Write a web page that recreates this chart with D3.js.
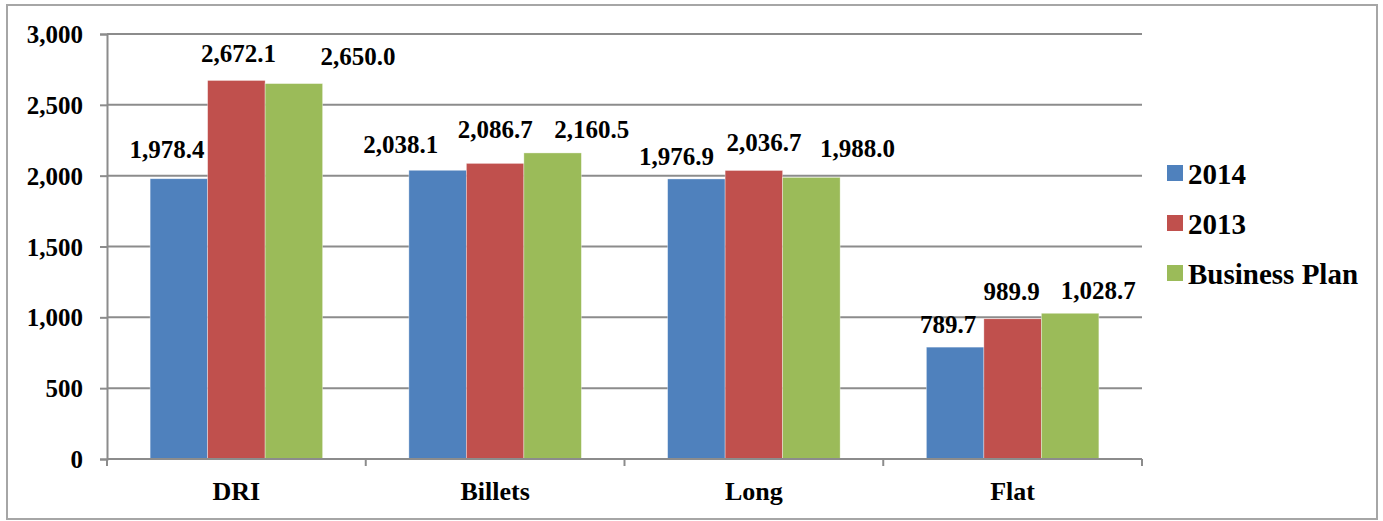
<!DOCTYPE html>
<html>
<head>
<meta charset="utf-8">
<script src="https://cdn.jsdelivr.net/npm/d3@7"></script>
<style>
  body { margin: 0; background: #fff; }
</style>
</head>
<body>
<div id="chart"></div>
<script>
// categories and series
const categories = ["DRI", "Billets", "Long", "Flat"];
const seriesNames = ["2014", "2013", "Business Plan"];
const values2014 = [1978.4, 2038.1, 1976.9, 789.7];
const values2013 = [2672.1, 2086.7, 2036.7, 989.9];
const valuesPlan = [2650.0, 2160.5, 1988.0, 1028.7];
const yTicks = [0, 500, 1000, 1500, 2000, 2500, 3000];

const colors = ["#4F81BD", "#C0504D", "#9BBB59"];
const FONT = "'Liberation Serif', serif";

// data labels were dragged by hand in the original, so nudge them a bit
const labelNudge = [
  [[-12, -21], [-37, -17], [-20, -14], [-7, -14]],
  [[2, -18], [0, -25], [10, -19], [-1, -19]],
  [[64, -19], [39, -15], [46, -20], [28, -14]]
];

const width = 1383, height = 521;
const margin = {top: 34, right: 241, bottom: 62, left: 107};
const innerW = width - margin.left - margin.right;
const innerH = height - margin.top - margin.bottom;

const svg = d3.select("#chart")
  .append("svg")
  .attr("width", width)
  .attr("height", height);

// outer chart border
svg.append("rect")
  .attr("x", 7).attr("y", 5)
  .attr("width", 1370).attr("height", 514)
  .attr("fill", "none")
  .attr("stroke", "#a6a6a6")
  .attr("stroke-width", 2);

const g = svg.append("g")
  .attr("transform", `translate(${margin.left},${margin.top})`);

const x0 = d3.scaleBand().domain(categories).range([0, innerW]).paddingInner(0).paddingOuter(0);
// Excel gap width 150%: bar width = band / (3 + 1.5)
const barW = x0.bandwidth() / 4.5;
const x1 = d3.scaleBand().domain(seriesNames)
  .range([barW * 0.75, barW * 3.75]);
const y = d3.scaleLinear().domain([0, 3000]).range([innerH, 0]);

// gridlines
g.selectAll("line.grid")
  .data(yTicks.filter(d => d > 0))
  .enter().append("line")
  .attr("class", "grid")
  .attr("x1", 0).attr("x2", innerW)
  .attr("y1", d => y(d)).attr("y2", d => y(d))
  .attr("stroke", "#8c8c8c").attr("stroke-width", 2);

// y axis
const yAxis = g.append("g")
  .call(d3.axisLeft(y).tickValues(yTicks).tickSize(7).tickPadding(17).tickFormat(d3.format(",")));
yAxis.select(".domain").attr("stroke", "#8c8c8c").attr("stroke-width", 2);
yAxis.selectAll(".tick line").attr("stroke", "#8c8c8c").attr("stroke-width", 2);
yAxis.selectAll(".tick text")
  .style("font-family", FONT)
  .style("font-weight", "bold")
  .style("font-size", "25px")
  .attr("fill", "#000")
  .attr("dy", "0.34em");

const allValues = [values2014, values2013, valuesPlan];
const rows = [];
categories.forEach((c, i) => {
  seriesNames.forEach((s, j) => {
    rows.push({cat: c, series: s, si: j, ci: i, value: allValues[j][i]});
  });
});

// bars
g.selectAll("rect.bar")
  .data(rows)
  .enter().append("rect")
  .attr("class", "bar")
  .attr("x", d => x0(d.cat) + x1(d.series))
  .attr("y", d => y(d.value))
  .attr("width", x1.bandwidth())
  .attr("height", d => innerH - y(d.value))
  .attr("fill", d => colors[d.si])
  .attr("stroke", "#fff")
  .attr("stroke-opacity", 0.5)
  .attr("stroke-width", 0.7);

// x axis
const xTicks = d3.range(categories.length + 1).map(i => i * x0.step());
g.append("line")
  .attr("x1", 0).attr("x2", innerW)
  .attr("y1", innerH).attr("y2", innerH)
  .attr("stroke", "#8c8c8c").attr("stroke-width", 2);
g.selectAll("line.xtick")
  .data(xTicks)
  .enter().append("line")
  .attr("class", "xtick")
  .attr("x1", d => d).attr("x2", d => d)
  .attr("y1", innerH).attr("y2", innerH + 7)
  .attr("stroke", "#8c8c8c").attr("stroke-width", 2);
g.selectAll("text.cat")
  .data(categories)
  .enter().append("text")
  .attr("class", "cat")
  .attr("x", d => x0(d) + x0.bandwidth() / 2)
  .attr("y", innerH + 41)
  .attr("text-anchor", "middle")
  .style("font-family", FONT)
  .style("font-weight", "bold")
  .style("font-size", "26px")
  .text(d => d);

// data labels
const fmt = d3.format(",.1f");
g.selectAll("text.val")
  .data(rows)
  .enter().append("text")
  .attr("class", "val")
  .attr("x", d => x0(d.cat) + x1(d.series) + x1.bandwidth() / 2 + labelNudge[d.si][d.ci][0])
  .attr("y", d => y(d.value) + labelNudge[d.si][d.ci][1])
  .attr("text-anchor", "middle")
  .style("font-family", FONT)
  .style("font-weight", "bold")
  .style("font-size", "25px")
  .text(d => fmt(d.value));

// legend
const legend = svg.append("g").attr("transform", "translate(1167,173)");
const item = legend.selectAll("g")
  .data(seriesNames)
  .enter().append("g")
  .attr("transform", (d, i) => `translate(0,${i * 50})`);
item.append("rect")
  .attr("x", 0).attr("y", -8)
  .attr("width", 16).attr("height", 16)
  .attr("fill", (d, i) => colors[i]);
item.append("text")
  .attr("x", 21).attr("y", 11)
  .style("font-family", FONT)
  .style("font-weight", "bold")
  .style("font-size", "29px")
  .text(d => d);
</script>
</body>
</html>
